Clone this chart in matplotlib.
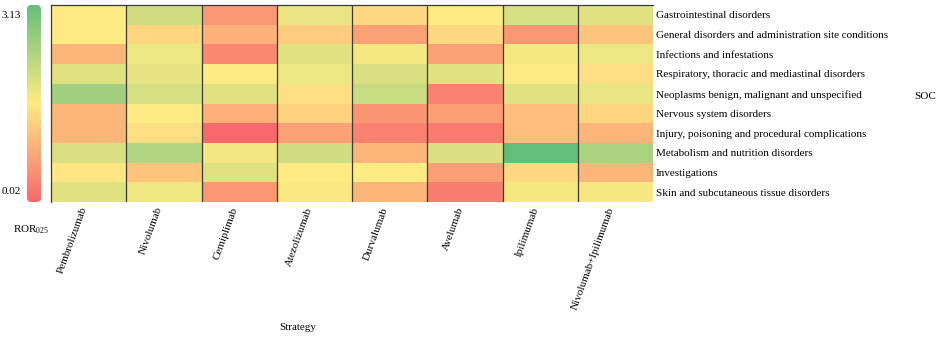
import numpy as np
import matplotlib
matplotlib.use("Agg")
import matplotlib.pyplot as plt
from matplotlib.colors import LinearSegmentedColormap
from matplotlib.patches import FancyBboxPatch

plt.rcParams['font.family'] = ['Liberation Serif', 'DejaVu Serif']
plt.rcParams['mathtext.fontset'] = 'custom'
plt.rcParams['mathtext.rm'] = 'Liberation Serif'

drugs = ["Pembrolizumab", "Nivolumab", "Cemiplimab", "Atezolizumab", "Durvalumab",
         "Avelumab", "Ipilimumab", "Nivolumab+Ipilimumab"]
socs = ["Gastrointestinal disorders",
        "General disorders and administration site conditions",
        "Infections and infestations",
        "Respiratory, thoracic and mediastinal disorders",
        "Neoplasms benign, malignant and unspecified",
        "Nervous system disorders",
        "Injury, poisoning and procedural complications",
        "Metabolism and nutrition disorders",
        "Investigations",
        "Skin and subcutaneous tissue disorders"]

# ROR025 per drug, rows follow socs order
pembrolizumab = [1.58, 1.58, 0.95, 1.89, 2.51, 0.95, 0.95, 1.95, 1.51, 1.89]
nivolumab     = [2.04, 1.33, 1.76, 1.82, 1.98, 1.58, 1.42, 2.35, 1.11, 1.73]
cemiplimab    = [0.58, 0.89, 0.39, 1.58, 1.89, 0.86, 0.02, 1.70, 1.89, 0.58]
atezolizumab  = [1.79, 1.20, 1.89, 1.76, 1.42, 1.26, 0.70, 2.04, 1.58, 1.64]
durvalumab    = [1.36, 0.70, 1.67, 1.95, 2.13, 0.55, 0.33, 0.95, 1.58, 0.95]
avelumab      = [1.58, 1.36, 0.70, 1.89, 0.33, 0.64, 0.24, 1.95, 0.64, 0.27]
ipilimumab    = [1.98, 0.58, 1.67, 1.58, 1.89, 1.05, 1.02, 3.13, 1.36, 1.67]
nivo_ipi      = [1.89, 1.11, 1.76, 1.42, 1.79, 1.33, 0.95, 2.41, 0.95, 1.67]

vmin, vmax = 0.02, 3.13

data = np.array([pembrolizumab, nivolumab, cemiplimab, atezolizumab,
                 durvalumab, avelumab, ipilimumab, nivo_ipi]).T

cmap = LinearSegmentedColormap.from_list("ryg", ["#f8696b", "#ffeb84", "#63be7b"])

W, H = 941, 337
fig = plt.figure(figsize=(W / 100, H / 100), dpi=100)

ax = fig.add_axes([51 / W, 1 - 202 / H, (653 - 51) / W, (202 - 5) / H])
ax.pcolormesh(np.arange(len(drugs) + 1), np.arange(len(socs) + 1), data,
              cmap=cmap, vmin=vmin, vmax=vmax)
ax.set_xlim(0, len(drugs))
ax.set_ylim(len(socs), 0)
for x in range(1, len(drugs)):
    ax.axvline(x, color="#3a3a3a", lw=0.9)
for s in ax.spines.values():
    s.set_color("#3a3a3a")
    s.set_linewidth(0.9)
ax.spines['right'].set_visible(False)
ax.spines['bottom'].set_visible(False)

ax.set_xticks(np.arange(len(drugs)) + 0.5)
ax.set_xticklabels(drugs, rotation=70, ha='right', va='bottom',
                   rotation_mode='anchor', fontsize=8)
ax.tick_params(axis='x', length=0, pad=5)
ax.yaxis.tick_right()
ax.set_yticks(np.arange(len(socs)) + 0.5)
ax.set_yticklabels(socs, fontsize=8)
ax.tick_params(axis='y', length=0, pad=2)

# colour bar with rounded ends
cax = fig.add_axes([27 / W, 1 - 202 / H, 14 / W, (202 - 5) / H])
grad = np.linspace(vmin, vmax, 256).reshape(-1, 1)
im = cax.imshow(grad, cmap=cmap, vmin=vmin, vmax=vmax, aspect='auto',
                origin='lower', extent=[0, 1, 0, 1])
patch = FancyBboxPatch((0, 0), 1, 1, boxstyle="round,pad=0,rounding_size=0.3",
                       transform=cax.transAxes, facecolor='none', edgecolor='none',
                       mutation_aspect=0.07)
cax.add_patch(patch)
im.set_clip_path(patch)
cax.axis('off')

fig.text(2 / W, 1 - 15 / H, f"{vmax:.2f}", fontsize=8, ha='left', va='center')
fig.text(2 / W, 1 - 192 / H, f"{vmin:.2f}", fontsize=8, ha='left', va='center')
fig.text(13 / W, 1 - 230 / H, r"ROR$_{025}$", fontsize=8, ha='left', va='center')
fig.text(298 / W, 1 - 328 / H, "Strategy", fontsize=8, ha='center', va='center')
fig.text(925 / W, 1 - 96 / H, "SOC", fontsize=8, ha='center', va='center')

fig.savefig("out.png", dpi=100)
